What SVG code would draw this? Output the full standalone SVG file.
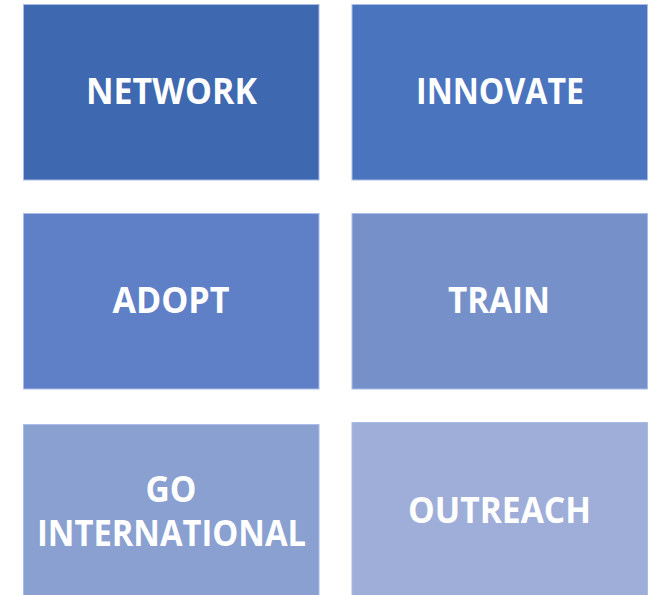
<svg xmlns="http://www.w3.org/2000/svg" width="657" height="595" viewBox="0 0 657 595">
<style>
.box{stroke:#a9bde6;stroke-width:1}
.lbl{font-family:"Open Sans","Liberation Sans",sans-serif;font-weight:bold;font-size:36px;fill:#ffffff;text-anchor:middle}
</style>
<rect width="657" height="595" fill="#ffffff"/>
<g id="network"><rect class="box" x="23.5" y="4.5" width="295.5" height="175.5" fill="#3e68b0"/><text class="lbl" x="171.5" y="104" textLength="171" lengthAdjust="spacingAndGlyphs">NETWORK</text></g>
<g id="innovate"><rect class="box" x="352" y="4.5" width="295.5" height="175.5" fill="#4a74be"/><text class="lbl" x="500" y="104" textLength="168" lengthAdjust="spacingAndGlyphs">INNOVATE</text></g>
<g id="adopt"><rect class="box" x="23.5" y="213.5" width="295.5" height="175.5" fill="#5f7fc6"/><text class="lbl" x="171" y="313" textLength="117" lengthAdjust="spacingAndGlyphs">ADOPT</text></g>
<g id="train"><rect class="box" x="352" y="213.5" width="295.5" height="175.5" fill="#7690ca"/><text class="lbl" x="499" y="313" textLength="102" lengthAdjust="spacingAndGlyphs">TRAIN</text></g>
<g id="go-international"><rect class="box" x="23.5" y="424.5" width="295.5" height="172" fill="#89a0d1"/><text class="lbl" x="171" y="502" textLength="51" lengthAdjust="spacingAndGlyphs">GO</text><text class="lbl" x="171.5" y="546" textLength="269" lengthAdjust="spacingAndGlyphs">INTERNATIONAL</text></g>
<g id="outreach"><rect class="box" x="352" y="422.5" width="295.5" height="174" fill="#9faed8"/><text class="lbl" x="499.5" y="523" textLength="183" lengthAdjust="spacingAndGlyphs">OUTREACH</text></g>
<g id="connectors"/>
</svg>
